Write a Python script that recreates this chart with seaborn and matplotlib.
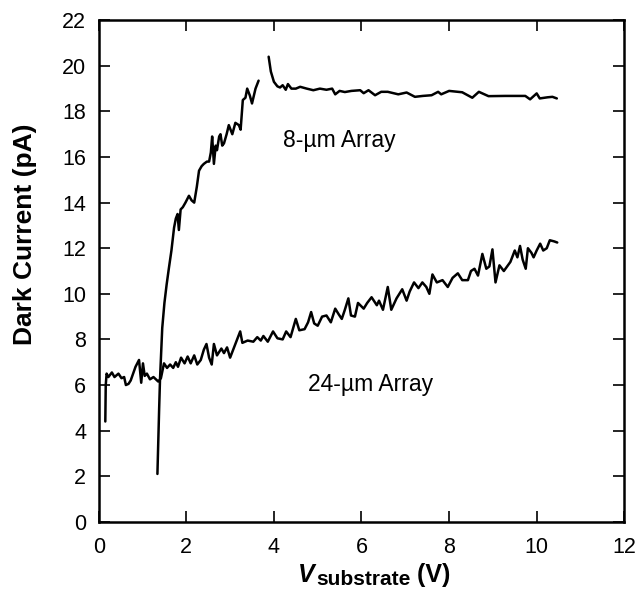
import pandas as pd
import matplotlib
matplotlib.use("Agg")
import matplotlib.pyplot as plt
import seaborn as sns

# -------------------------
# Data
# -------------------------
# 24-um array
v24 = [0.15, 0.16, 0.18, 0.22, 0.30, 0.36, 0.45, 0.52, 0.58, 0.62, 0.68, 0.73,
       0.84, 0.92, 0.97, 1.01, 1.05, 1.10, 1.17, 1.25, 1.36, 1.42, 1.49, 1.56,
       1.63, 1.70, 1.76, 1.81, 1.88, 1.96, 2.03, 2.10, 2.18, 2.25, 2.33, 2.40,
       2.46, 2.52, 2.58, 2.63, 2.70, 2.80, 2.86, 2.93, 3.00, 3.10, 3.23, 3.28,
       3.40, 3.53, 3.62, 3.70, 3.76, 3.86, 3.98, 4.08, 4.20, 4.28, 4.38, 4.50,
       4.58, 4.70, 4.78, 4.85, 4.92, 5.00, 5.10, 5.20, 5.30, 5.40, 5.48, 5.55,
       5.62, 5.70, 5.76, 5.85, 5.92, 6.05, 6.13, 6.23, 6.35, 6.40, 6.49, 6.60,
       6.68, 6.80, 6.93, 7.03, 7.10, 7.20, 7.30, 7.39, 7.48, 7.55, 7.62, 7.72,
       7.85, 7.97, 8.08, 8.20, 8.30, 8.43, 8.50, 8.58, 8.66, 8.76, 8.85, 8.92,
       8.99, 9.06, 9.15, 9.25, 9.40, 9.50, 9.56, 9.62, 9.68, 9.75, 9.80, 9.88,
       9.93, 10.00, 10.08, 10.15, 10.23, 10.30, 10.40, 10.47]
i24 = [4.4, 6.0, 6.5, 6.35, 6.55, 6.35, 6.5, 6.3, 6.35, 6.0, 6.05, 6.2,
       6.8, 7.1, 6.1, 6.95, 6.4, 6.5, 6.25, 6.35, 6.15, 6.3, 6.95, 6.75,
       6.9, 6.75, 7.0, 6.8, 7.2, 6.95, 7.25, 6.95, 7.3, 6.9, 7.1, 7.55,
       7.8, 7.2, 6.9, 7.8, 7.3, 7.6, 7.4, 7.65, 7.2, 7.7, 8.35, 7.85,
       7.95, 7.9, 8.1, 7.95, 8.15, 7.9, 8.35, 8.05, 8.0, 8.35, 8.1, 8.9,
       8.4, 8.45, 8.75, 9.2, 8.7, 8.6, 9.0, 9.05, 8.75, 9.35, 9.1, 8.9,
       9.3, 9.8, 9.05, 9.0, 9.6, 9.35, 9.6, 9.85, 9.5, 9.7, 9.3, 10.3,
       9.3, 9.8, 10.2, 9.7, 10.1, 10.5, 10.25, 10.5, 10.3, 10.0, 10.85, 10.5,
       10.6, 10.3, 10.7, 10.9, 10.6, 10.6, 11.0, 11.1, 10.8, 11.75, 11.1, 11.2,
       11.95, 10.5, 11.25, 11.0, 11.4, 11.9, 11.6, 12.1, 11.5, 11.1, 12.0, 11.8,
       11.6, 11.9, 12.2, 11.9, 12.0, 12.35, 12.3, 12.25]

# 8-um array, rising part
v8a = [1.34, 1.38, 1.40, 1.45, 1.50, 1.55, 1.60, 1.66, 1.72, 1.76, 1.80, 1.83,
       1.87, 1.92, 1.98, 2.06, 2.12, 2.18, 2.24, 2.29, 2.35, 2.40, 2.47, 2.52,
       2.56, 2.59, 2.63, 2.67, 2.70, 2.75, 2.78, 2.82, 2.86, 2.92, 2.97, 3.05,
       3.12, 3.20, 3.24, 3.29, 3.35, 3.39, 3.45, 3.50, 3.58, 3.65]
i8a = [2.1, 5.0, 6.3, 8.5, 9.6, 10.4, 11.1, 11.9, 12.9, 13.3, 13.5, 12.8,
       13.7, 13.8, 14.0, 14.3, 14.1, 14.0, 14.7, 15.4, 15.6, 15.7, 15.8, 15.8,
       16.2, 16.9, 15.7, 16.5, 16.3, 16.9, 17.0, 16.5, 16.6, 17.0, 17.4, 17.0,
       17.5, 17.4, 17.2, 18.5, 18.6, 19.0, 18.7, 18.35, 19.0, 19.35]

# 8-um array, flat part
v8b = [3.88, 3.93, 4.00, 4.08, 4.14, 4.20, 4.27, 4.32, 4.40, 4.50, 4.60, 4.75,
       4.90, 5.05, 5.20, 5.33, 5.40, 5.50, 5.62, 5.77, 5.97, 6.05, 6.16, 6.31,
       6.45, 6.60, 6.84, 7.03, 7.22, 7.40, 7.60, 7.75, 7.82, 8.00, 8.30, 8.53,
       8.68, 8.90, 9.28, 9.74, 9.85, 10.00, 10.07, 10.25, 10.36, 10.46]
i8b = [20.4, 19.75, 19.3, 19.1, 19.05, 19.15, 18.95, 19.2, 19.0, 19.0, 19.08, 19.0,
       18.93, 19.0, 18.95, 19.0, 18.75, 18.9, 18.85, 18.9, 18.93, 18.8, 18.93, 18.71,
       18.86, 18.86, 18.75, 18.83, 18.64, 18.68, 18.71, 18.86, 18.75, 18.9, 18.84, 18.6,
       18.86, 18.67, 18.68, 18.68, 18.53, 18.79, 18.57, 18.62, 18.64, 18.57]

xticks = [0, 2, 4, 6, 8, 10, 12]
yticks = list(range(0, 23, 2))

# -------------------------
# Style
# -------------------------
sns.set_style("ticks")
plt.rcParams['font.family'] = ['Liberation Sans', 'DejaVu Sans']
plt.rcParams['text.color'] = 'black'
plt.rcParams['axes.labelcolor'] = 'black'
plt.rcParams['xtick.color'] = 'black'
plt.rcParams['ytick.color'] = 'black'

fig = plt.figure(figsize=(6.37, 5.95), dpi=100)
ax = fig.add_axes([0.155, 0.123, 0.825, 0.843])

segments = [(v24, i24), (v8a, i8a), (v8b, i8b)]
for xs, ys in segments:
    sns.lineplot(x=xs, y=ys, ax=ax, color='black', linewidth=1.8,
                 estimator=None, sort=False)

ax.set_xlim(0, 12)
ax.set_ylim(0, 22)
ax.set_xticks(xticks)
ax.set_yticks(yticks)
ax.tick_params(direction='in', length=8, width=1.2, top=True, right=True,
               labelsize=15.5, pad=9)
ax.tick_params(axis='x', pad=11)
ax.tick_params(labeltop=False, labelright=False)
for s in ax.spines.values():
    s.set_visible(True)
    s.set_linewidth(1.8)
    s.set_color('black')

# y label, shifted up like the original
ax.set_ylabel("Dark Current (pA)", fontsize=19, fontweight='bold')
ax.yaxis.set_label_coords(-0.118, 0.574)

# x label: V (bold italic) + "substrate" subscript + (V)
t1 = fig.text(298 / 637, 1 - 582 / 595, "V", fontsize=18, fontweight='bold',
              fontstyle='italic', va='baseline', ha='left')
t2 = ax.annotate("substrate", xy=(1, 0), xycoords=t1, xytext=(1, -1.5),
                 textcoords='offset points', fontsize=15, fontweight='bold',
                 va='bottom', ha='left', annotation_clip=False)
t3 = ax.annotate(" (V)", xy=(1, 0), xycoords=t2, xytext=(0, 1.5),
                 textcoords='offset points', fontsize=18, fontweight='bold',
                 va='bottom', ha='left', annotation_clip=False)

ax.text(5.5, 16.74, "8-\u00b5m Array", fontsize=16.5, ha='center', va='center')
ax.text(6.21, 6.04, "24-\u00b5m Array", fontsize=16.5, ha='center', va='center')

plt.savefig("out.png", dpi=100)
